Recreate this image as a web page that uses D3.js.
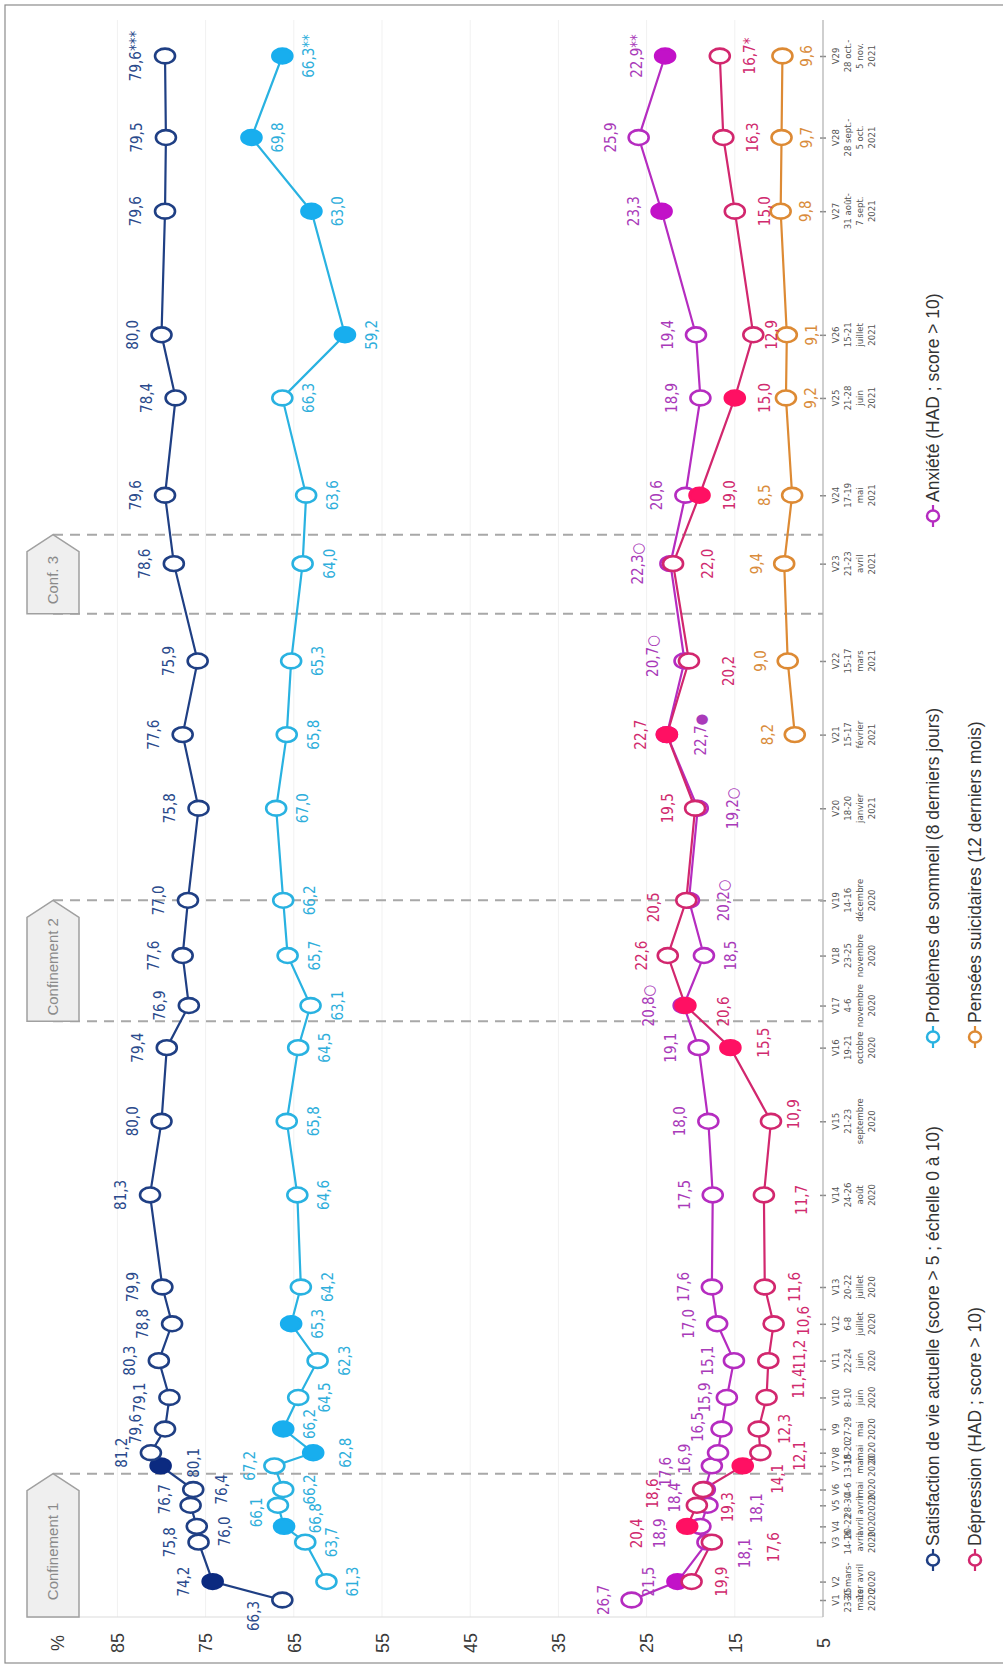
<!DOCTYPE html>
<html>
<head>
<meta charset="utf-8">
<script src="https://cdn.jsdelivr.net/npm/d3@7"></script>
<style>
  body { margin: 0; background: #fff; }
  svg { display: block; }
  .lbl { font-family: "Liberation Sans Narrow", "DejaVu Sans Condensed", sans-serif; font-size: 15px; }
  .wave { font-family: "Liberation Sans Narrow", "DejaVu Sans Condensed", sans-serif; font-size: 9.5px; fill: #555; }
</style>
</head>
<body>
<svg id="chart"></svg>
<script>
// Waves of the survey (field dates, mid point used for the time scale)
const waves = d3.range(1, 30).map(i => "V" + i);
const waveMid = ["2020-03-24","2020-03-31","2020-04-15","2020-04-21","2020-04-29","2020-05-05","2020-05-14",
  "2020-05-19","2020-05-28","2020-06-09","2020-06-23","2020-07-07","2020-07-21","2020-08-25","2020-09-22",
  "2020-10-20","2020-11-05","2020-11-24","2020-12-15","2021-01-19","2021-02-16","2021-03-16","2021-04-22",
  "2021-05-18","2021-06-24","2021-07-18","2021-09-03","2021-10-01","2021-11-01"];
const waveDays = ["23-25","30 mars-","14-16","20-22","28-30","4-6","13-15","18-20","27-29","8-10","22-24","6-8",
  "20-22","24-26","21-23","19-21","4-6","23-25","14-16","18-20","15-17","15-17","21-23","17-19","21-28","15-21",
  "31 août-","28 sept.-","28 oct.-"];
const waveMonths = ["mars","1er avril","avril","avril","avril","mai","mai","mai","mai","juin","juin","juillet",
  "juillet","août","septembre","octobre","novembre","novembre","décembre","janvier","février","mars","avril",
  "mai","juin","juillet","7 sept.","5 oct.","5 nov."];
const waveYears = waves.map((w, i) => i < 19 ? "2020" : "2021");

// Series values (%)
const satisfaction = [66.3,74.2,75.8,76.0,76.7,76.4,80.1,81.2,79.6,79.1,80.3,78.8,79.9,81.3,80.0,79.4,76.9,77.6,
  77.0,75.8,77.6,75.9,78.6,79.6,78.4,80.0,79.6,79.5,79.6];
const sommeil = [null,61.3,63.7,66.1,66.8,66.2,67.2,62.8,66.2,64.5,62.3,65.3,64.2,64.6,65.8,64.5,63.1,65.7,
  66.2,67.0,65.8,65.3,64.0,63.6,66.3,59.2,63.0,69.8,66.3];
const anxiete = [26.7,21.5,18.1,18.9,18.1,18.4,17.6,16.9,16.5,15.9,15.1,17.0,17.6,17.5,18.0,19.1,20.8,18.5,
  20.2,19.2,22.7,20.7,22.3,20.6,18.9,19.4,23.3,25.9,22.9];
const depression = [null,19.9,17.6,20.4,19.3,18.6,14.1,12.1,12.3,11.4,11.2,10.6,11.6,11.7,10.9,15.5,20.6,22.6,
  20.5,19.5,22.7,20.2,22.0,19.0,15.0,12.9,15.0,16.3,16.7];
const suicidaires = [null,null,null,null,null,null,null,null,null,null,null,null,null,null,null,null,null,null,
  null,null,8.2,9.0,9.4,8.5,9.2,9.1,9.8,9.7,9.6];

// Waves with a significant change (filled marker)
const satFilled = [2, 7];
const sommeilFilled = [4, 8, 9, 12, 26, 27, 28, 29];
const anxFilled = [2, 21, 27, 29];
const depFilled = [4, 7, 16, 17, 21, 24, 25];
const suiFilled = [];

// Extra marks after some labels
const satSuffix = { 29: "***" };
const sommeilSuffix = { 29: "**" };
const anxSuffix = { 17: "○", 19: "○", 20: "○", 21: "●", 22: "○", 23: "○", 29: "**" };
const depSuffix = { 29: "*" };
const suiSuffix = {};

const seriesNames = ["Satisfaction de vie actuelle (score > 5 ; échelle 0 à 10)", "Dépression (HAD ; score > 10)",
  "Problèmes de sommeil (8 derniers jours)", "Pensées suicidaires (12 derniers mois)", "Anxiété (HAD ; score > 10)"];

const valueTicks = [5, 15, 25, 35, 45, 55, 65, 75, 85];

const confLabels = ["Confinement 1", "Confinement 2", "Conf. 3"];
const confStart = ["2020-03-17", "2020-10-30", "2021-04-03"];
const confEnd = ["2020-05-11", "2020-12-15", "2021-05-03"];

// ---- layout ----
const W = 1003, H = 1670;
const plotBottom = 1617, plotTop = 20;
const parse = d3.timeParse("%Y-%m-%d");
const fmt = v => d3.format(".1f")(v).replace(".", ",");

const svg = d3.select("#chart").attr("width", W).attr("height", H);

const y = d3.scaleTime()
  .domain([parse(waveMid[0]), parse(waveMid[28])])
  .range([1600, 56]);
const x = d3.scaleLinear().domain([5, 85]).range([823, 117.4]);

// frame
svg.append("rect").attr("x", 5).attr("y", 5).attr("width", 1020).attr("height", 1658)
  .attr("fill", "none").attr("stroke", "#8c8c8c").attr("stroke-width", 1.2);

// gridlines
svg.append("g").selectAll("line").data(valueTicks).join("line")
  .attr("x1", d => x(d)).attr("x2", d => x(d))
  .attr("y1", plotTop).attr("y2", plotBottom)
  .attr("stroke", "#f1f1f1").attr("stroke-width", 1);

svg.append("line").attr("x1", 27).attr("x2", x(5)).attr("y1", plotBottom).attr("y2", plotBottom)
  .attr("stroke", "#dcdcdc").attr("stroke-width", 1.2);

// value axis (labels only)
const vAxis = svg.append("g").attr("transform", "translate(0,1643)")
  .call(d3.axisBottom(x).tickValues(valueTicks).tickSize(0).tickFormat(d => d));
vAxis.select(".domain").remove();
vAxis.selectAll("text")
  .attr("x", 0).attr("y", 0).attr("dy", "0.35em")
  .attr("transform", "rotate(-90)")
  .attr("text-anchor", "middle")
  .style("font-family", "'Liberation Sans', Arial, sans-serif")
  .style("font-size", "18px").style("fill", "#3a3a3a");
svg.append("text").attr("transform", "translate(58,1643) rotate(-90)")
  .attr("text-anchor", "middle").attr("dy", "0.35em")
  .style("font-family", "'Liberation Sans', Arial, sans-serif")
  .style("font-size", "18px").style("fill", "#3a3a3a").text("%");

// wave axis
const dates = waveMid.map(parse);
const wAxis = svg.append("g").attr("transform", `translate(${x(5)},0)`)
  .call(d3.axisRight(y).tickValues(dates).tickSizeInner(3).tickSizeOuter(0).tickFormat(""));
wAxis.select(".domain").remove();
wAxis.selectAll(".tick line").attr("x1", -3).attr("stroke", "#8a8a8a").attr("stroke-width", 1.5);
wAxis.append("line").attr("x1", 0).attr("x2", 0).attr("y1", plotTop).attr("y2", plotBottom)
  .attr("stroke", "#a6a6a6").attr("stroke-width", 1);

const waveLbl = svg.append("g").selectAll("text").data(waves).join("text")
  .attr("class", "wave")
  .attr("text-anchor", "middle")
  .attr("transform", (d, i) => `translate(838.5,${y(dates[i])}) rotate(-90)`);
waveLbl.each(function (d, i) {
  const t = d3.select(this);
  [d, waveDays[i], waveMonths[i], waveYears[i]].forEach((s, k) => {
    t.append("tspan").attr("x", 0).attr("y", k * 12).text(s);
  });
});

// confinement periods
const confG = svg.append("g");
confLabels.forEach((name, i) => {
  const yTip = y(parse(confEnd[i]));
  const yBot = Math.min(y(parse(confStart[i])), plotBottom);
  const dashYs = i === 0 ? [yTip] : [yTip, yBot];
  dashYs.forEach(dy => {
    confG.append("line").attr("x1", 53).attr("x2", x(5)).attr("y1", dy).attr("y2", dy)
      .attr("stroke", "#a8a8a8").attr("stroke-width", 2).attr("stroke-dasharray", "10,7");
  });
  const l = 27, r = 79, cx = (l + r) / 2;
  confG.append("path")
    .attr("d", `M${l},${yBot} L${l},${yTip + 17} L${cx},${yTip} L${r},${yTip + 17} L${r},${yBot} Z`)
    .attr("fill", "#efefef").attr("stroke", "#a0a0a0").attr("stroke-width", 1.5);
  confG.append("text")
    .attr("transform", `translate(${cx},${(yBot + yTip + 12) / 2}) rotate(-90)`)
    .attr("text-anchor", "middle").attr("dy", "0.35em")
    .style("font-family", "'Liberation Sans', Arial, sans-serif")
    .style("font-size", "15px").style("fill", "#8a8a8a").text(name);
});

// ---- series ----
const styles = {
  sat: { stroke: "#1f3f84", fill: "#0b2a80", label: "#2a4a8c", dx: -29 },
  som: { stroke: "#29b2e1", fill: "#18aeee", label: "#2eaedb", dx: 27 },
  anx: { stroke: "#b52cc0", fill: "#c212c8", label: "#a93ab9", dx: -28 },
  dep: { stroke: "#d2276e", fill: "#ff1063", label: "#d02a6e", dx: 30 },
  sui: { stroke: "#dd8a34", fill: "#dd8a34", label: "#d98c3c", dx: -27 }
};

// label nudges per wave number: [dx, dy]
const satNudge = { 1: [-28, 16], 4: [28, 5], 5: [-26, -6], 6: [29, 0], 7: [33, -3] };
const somNudge = { 4: [-27, -14], 5: [38, 13], 7: [-24, 0], 8: [33, 0], 9: [27, -5] };
const anxNudge = { 3: [38, 11], 4: [-40, 7], 5: [50, 3], 6: [-30, 8], 7: [-46, 6], 8: [-33, 6], 9: [-24, -2],
  10: [-22, 0], 11: [-26, 0], 17: [-35, 0], 18: [27, 0], 19: [35, 0], 20: [35, 0], 21: [34, 0], 22: [-32, -5],
  23: [-32, 0] };
const depNudge = { 3: [62, 5], 4: [-50, 7], 5: [31, 2], 6: [-50, 4], 7: [35, 13], 8: [40, 3], 9: [26, 0],
  10: [32, -14], 11: [32, -6], 12: [30, -3], 14: [38, 5], 15: [23, -7], 16: [34, -5], 17: [39, 6], 18: [-26, 0],
  19: [-32, 7], 20: [-27, 0], 21: [-26, 0], 22: [40, 10], 23: [35, 0], 26: [19, 0] };
const suiNudge = { 25: [25, 0], 26: [25, 0], 27: [25, 0], 28: [25, 0], 29: [25, 0] };

const allSeries = [
  { key: "sat", values: satisfaction, filled: satFilled, suffix: satSuffix, nudge: satNudge },
  { key: "som", values: sommeil, filled: sommeilFilled, suffix: sommeilSuffix, nudge: somNudge },
  { key: "anx", values: anxiete, filled: anxFilled, suffix: anxSuffix, nudge: anxNudge },
  { key: "dep", values: depression, filled: depFilled, suffix: depSuffix, nudge: depNudge },
  { key: "sui", values: suicidaires, filled: suiFilled, suffix: suiSuffix, nudge: suiNudge }
];

const line = d3.line()
  .defined(d => d.v != null)
  .x(d => x(d.v))
  .y(d => y(d.date));

const pts = allSeries.map(s => s.values.map((v, i) => ({ v, date: dates[i], n: i + 1, s })));

const lineG = svg.append("g");
const markG = svg.append("g");
allSeries.forEach((s, k) => {
  const st = styles[s.key];
  lineG.append("path").datum(pts[k])
    .attr("fill", "none").attr("stroke", st.stroke).attr("stroke-width", 2.2)
    .attr("d", line);
});
allSeries.forEach((s, k) => {
  const st = styles[s.key];
  markG.append("g").selectAll("ellipse").data(pts[k].filter(d => d.v != null)).join("ellipse")
    .attr("cx", d => x(d.v)).attr("cy", d => y(d.date))
    .attr("rx", 10).attr("ry", 7.4)
    .attr("fill", d => s.filled.includes(d.n) ? st.fill : "#fff")
    .attr("stroke", d => s.filled.includes(d.n) ? st.fill : st.stroke)
    .attr("stroke-width", 2.6);
});

const lblG = svg.append("g");
allSeries.forEach((s, k) => {
  const st = styles[s.key];
  lblG.append("g").selectAll("text").data(pts[k].filter(d => d.v != null)).join("text")
    .attr("class", "lbl")
    .attr("fill", st.label)
    .attr("text-anchor", "middle")
    .attr("dominant-baseline", "central")
    .attr("transform", d => {
      const nd = s.nudge[d.n] || [st.dx, 0];
      return `translate(${x(d.v) + nd[0]},${y(d.date) + nd[1]}) rotate(-90)`;
    })
    .text(d => fmt(d.v) + (s.suffix[d.n] || ""));
});

// ---- legend ----
const legendOrder = ["sat", "dep", "som", "sui", "anx"];
const legendPos = [[933, 1560], [975, 1560], [933, 1037], [975, 1037], [933, 516]];
const legG = svg.append("g");
legendOrder.forEach((key, i) => {
  const st = styles[key];
  const [lx, ly] = legendPos[i];
  legG.append("line").attr("x1", lx).attr("x2", lx).attr("y1", ly - 11).attr("y2", ly + 11)
    .attr("stroke", st.stroke).attr("stroke-width", 2.2);
  legG.append("ellipse").attr("cx", lx).attr("cy", ly).attr("rx", 6).attr("ry", 5.5)
    .attr("fill", "#fff").attr("stroke", st.stroke).attr("stroke-width", 2.5);
  legG.append("text")
    .attr("transform", `translate(${lx},${ly - 14}) rotate(-90)`)
    .attr("dominant-baseline", "central")
    .style("font-family", "'Liberation Sans', Arial, sans-serif")
    .style("font-size", "17.5px").style("fill", "#333")
    .text(seriesNames[i]);
});
</script>
</body>
</html>
